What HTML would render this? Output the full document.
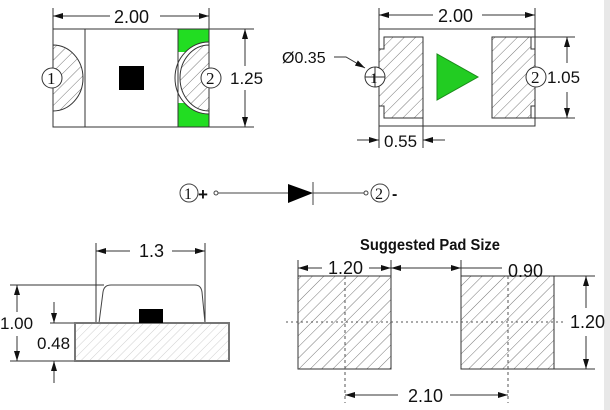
<!DOCTYPE html>
<html><head><style>
html,body{margin:0;padding:0;background:#fff;}
svg{display:block;}
text{font-family:"Liberation Sans",sans-serif;fill:#111;}
.s{font-family:"Liberation Serif",serif;}
</style></head><body>
<svg width="610" height="410" viewBox="0 0 610 410" xmlns="http://www.w3.org/2000/svg">
<defs>
<pattern id="h" patternUnits="userSpaceOnUse" width="8" height="8" patternTransform="rotate(45)">
<line x1="0" y1="0" x2="0" y2="8" stroke="#555" stroke-width="0.8"/>
</pattern>
<pattern id="h2" patternUnits="userSpaceOnUse" width="6" height="6" patternTransform="rotate(45)">
<line x1="0" y1="0" x2="0" y2="6" stroke="#bbb" stroke-width="0.7"/>
</pattern>
<marker id="a" viewBox="0 0 10 6" refX="10" refY="3" markerWidth="10" markerHeight="6" orient="auto-start-reverse" markerUnits="userSpaceOnUse">
<path d="M0,0 L10,3 L0,6 z" fill="#111"/>
</marker>
</defs>
<rect x="604" y="0" width="6" height="410" fill="#e8e8e8"/>

<!-- top-left -->
<g stroke="#333" stroke-width="1">
<line x1="53" y1="8" x2="53" y2="29"/><line x1="209" y1="8" x2="209" y2="29"/>
<line x1="53" y1="16" x2="110" y2="16" marker-start="url(#a)"/>
<line x1="160" y1="16" x2="209" y2="16" marker-end="url(#a)"/>
<line x1="209" y1="29" x2="254" y2="29"/><line x1="209" y1="127" x2="254" y2="127"/>
<rect x="178" y="29" width="31" height="98" fill="#22dd22"/>
<rect x="178.5" y="52" width="30" height="51" fill="#fff" stroke="none"/>
<path d="M209,42 A34,36 0 0 0 209,114 Z" fill="#fff" stroke="none"/>
<path d="M209,45 A29,33 0 0 0 209,111 Z" fill="url(#h)"/>
<path d="M209,42 A34,36 0 0 0 209,114" fill="none"/>
<rect x="53" y="29" width="156" height="98" fill="none"/>
<line x1="85" y1="29" x2="85" y2="127"/>
<line x1="178" y1="29" x2="178" y2="127"/>
<path d="M53,45 A30,33 0 0 1 53,111 Z" fill="url(#h)"/>
<circle cx="52" cy="78" r="10" fill="#fff"/>
<circle cx="211" cy="78" r="10" fill="#fff"/>
<rect x="119" y="66" width="25" height="24" fill="#000" stroke="none"/>
<line x1="245" y1="29" x2="245" y2="66" marker-start="url(#a)"/>
<line x1="245" y1="90" x2="245" y2="127" marker-end="url(#a)"/>
</g>
<text x="114" y="23" font-size="18">2.00</text>
<text x="230" y="84" font-size="17">1.25</text>
<text class="s" x="47" y="84" font-size="17">1</text>
<text class="s" x="206" y="84" font-size="17">2</text>

<!-- top-right -->
<g stroke="#333" stroke-width="1">
<line x1="379" y1="8" x2="379" y2="148"/><line x1="535" y1="8" x2="535" y2="29"/>
<line x1="379" y1="15" x2="433" y2="15" marker-start="url(#a)"/>
<line x1="482" y1="15" x2="535" y2="15" marker-end="url(#a)"/>
<rect x="379" y="29" width="156" height="97" fill="none"/>
<path d="M384,37 H423 V118 H384 V106 H379 V49 H384 Z" fill="url(#h)"/>
<path d="M492,37 H531 V49 H535 V106 H531 V118 H492 Z" fill="url(#h)"/>
<line x1="423" y1="118" x2="423" y2="148"/>
<line x1="531" y1="37" x2="575" y2="37"/><line x1="531" y1="118" x2="575" y2="118"/>
<circle cx="375" cy="77" r="10" fill="#fff"/>
<line x1="365" y1="77" x2="385" y2="77"/><line x1="375" y1="67" x2="375" y2="87"/>
<circle cx="536" cy="77" r="10" fill="#fff"/>
<polyline points="334,57 346,57 365,68" fill="none" marker-end="url(#a)"/>
<line x1="357" y1="140" x2="379" y2="140" marker-end="url(#a)"/>
<line x1="445" y1="140" x2="423" y2="140" marker-end="url(#a)"/>
<line x1="567" y1="37" x2="567" y2="63" marker-start="url(#a)"/>
<line x1="567" y1="92" x2="567" y2="118" marker-end="url(#a)"/>
</g>
<polygon points="437,54 437,100 478,77" fill="#22cc22" stroke="#1a8a1a"/>
<text x="438" y="22" font-size="18">2.00</text>
<text x="547" y="83" font-size="17">1.05</text>
<text x="282" y="63" font-size="16">Ø0.35</text>
<text x="384" y="147" font-size="17">0.55</text>
<text class="s" x="370" y="83" font-size="15">1</text>
<text class="s" x="531" y="83" font-size="17">2</text>

<!-- diode -->
<g stroke="#444" stroke-width="1" fill="none">
<circle cx="189" cy="193" r="9"/>
<circle cx="216" cy="193" r="2"/><line x1="218" y1="193" x2="288" y2="193"/>
<line x1="313" y1="193" x2="364" y2="193"/><circle cx="366" cy="193" r="2"/>
<circle cx="380" cy="193" r="9"/>
<line x1="313" y1="182" x2="313" y2="205"/>
</g>
<polygon points="288,184 288,203 313,193" fill="#000"/>
<text class="s" x="184" y="199" font-size="16">1</text>
<text class="s" x="375" y="199" font-size="16">2</text>
<text x="198" y="200" font-size="17" font-weight="bold">+</text>
<text x="392" y="199" font-size="16" font-weight="bold">-</text>

<!-- bottom-left -->
<g stroke="#333" stroke-width="1" fill="none">
<line x1="96" y1="243" x2="96" y2="323"/><line x1="205" y1="243" x2="205" y2="323"/>
<line x1="96" y1="251" x2="130" y2="251" marker-start="url(#a)"/>
<line x1="172" y1="251" x2="205" y2="251" marker-end="url(#a)"/>
<line x1="10" y1="285" x2="104" y2="285"/><line x1="10" y1="361" x2="74" y2="361"/>
<path d="M99,323 L103,292 Q104,285 111,285 L195,285 Q201,285 202,292 L205,323" stroke="#444"/>
<line x1="50" y1="323" x2="75" y2="323"/>
<line x1="17" y1="285" x2="17" y2="312" marker-start="url(#a)"/>
<line x1="17" y1="336" x2="17" y2="361" marker-end="url(#a)"/>
<line x1="54" y1="302" x2="54" y2="323" marker-end="url(#a)"/>
<line x1="54" y1="383" x2="54" y2="361" marker-end="url(#a)"/>
</g>
<rect x="75" y="323" width="154" height="38" fill="url(#h2)" stroke="#777" stroke-width="2"/>
<rect x="139" y="309" width="24" height="14" fill="#000"/>
<text x="139" y="257" font-size="18">1.3</text>
<text x="0" y="329" font-size="17">1.00</text>
<text x="37" y="349" font-size="17">0.48</text>

<!-- bottom-right -->
<text x="430" y="250" font-size="16" font-weight="bold" text-anchor="middle" textLength="140" lengthAdjust="spacingAndGlyphs">Suggested Pad Size</text>
<g stroke="#333" stroke-width="1">
<rect x="298" y="276" width="93" height="93" fill="url(#h)"/>
<rect x="461" y="276" width="93" height="93" fill="url(#h)"/>
<line x1="286" y1="322" x2="564" y2="322" stroke-dasharray="2,3" stroke="#555"/>
<line x1="345" y1="276" x2="345" y2="403" stroke-dasharray="3,3" stroke="#555"/>
<line x1="508" y1="276" x2="508" y2="403" stroke-dasharray="3,3" stroke="#555"/>
<line x1="298" y1="260" x2="298" y2="276"/><line x1="391" y1="260" x2="391" y2="276"/>
<line x1="461" y1="260" x2="461" y2="276"/>
<line x1="298" y1="268" x2="322" y2="268" marker-start="url(#a)"/>
<line x1="369" y1="268" x2="391" y2="268" marker-end="url(#a)"/>
<line x1="391" y1="268" x2="461" y2="268" marker-start="url(#a)" marker-end="url(#a)"/>
<line x1="461" y1="268" x2="502" y2="268"/>
<line x1="554" y1="276" x2="595" y2="276"/><line x1="554" y1="369" x2="595" y2="369"/>
<line x1="586" y1="276" x2="586" y2="308" marker-start="url(#a)"/>
<line x1="586" y1="336" x2="586" y2="369" marker-end="url(#a)"/>
<line x1="345" y1="395" x2="398" y2="395" marker-start="url(#a)"/>
<line x1="450" y1="395" x2="508" y2="395" marker-end="url(#a)"/>
</g>
<text x="328" y="274" font-size="18">1.20</text>
<text x="508" y="277" font-size="18">0.90</text>
<text x="570" y="328" font-size="18">1.20</text>
<text x="408" y="402" font-size="18">2.10</text>
</svg>
</body></html>
